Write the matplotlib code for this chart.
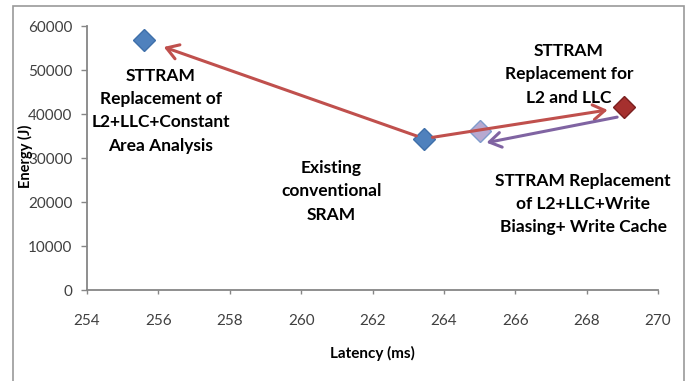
import matplotlib
matplotlib.use("Agg")
import matplotlib.pyplot as plt
from matplotlib.patches import FancyArrowPatch, Rectangle
from matplotlib.transforms import ScaledTranslation

plt.rcParams["font.family"] = ["Lato", "DejaVu Sans"]

# ── data ─────────────────────────────────────────────────────────────────────
latency = [255.6, 263.45, 265.0, 269.05]      # ms
energy  = [56800, 34400, 36200, 41500]        # J
face    = ["#4F81BD", "#4F81BD", "#B7A9D0", "#A5302E"]
edge    = ["#3F70AA", "#3F70AA", "#7F9CCC", "#7A1F1F"]

labels = [
    "STTRAM\nReplacement of\nL2+LLC+Constant\nArea Analysis",
    "Existing\nconventional\nSRAM",
    "STTRAM\nReplacement for\nL2 and LLC",
    "STTRAM Replacement\nof L2+LLC+Write\nBiasing+ Write Cache",
]
label_pos = [(256.07, 40700), (260.84, 22400), (267.5, 49000), (267.9, 19600)]

xticks = list(range(254, 271, 2))
yticks = list(range(0, 60001, 10000))

fig = plt.figure(figsize=(6.88, 3.81), dpi=100)
ax = fig.add_axes([87 / 688, 1 - 290 / 381, 571 / 688, 264 / 381])

# outer frame of the chart
fig.patches.append(Rectangle((13 / 688, -0.05), 671 / 688, 1.05 - 6 / 381,
                             transform=fig.transFigure, fill=False,
                             edgecolor="#9a9a9a", lw=1.2))

for x, y, fc, ec in zip(latency, energy, face, edge):
    ax.plot(x, y, marker="D", ms=11, mfc=fc, mec=ec, mew=1.0,
            ls="none", zorder=3)

def offset(dx, dy):
    # shift in points relative to a data position
    return ax.transData + ScaledTranslation(dx / 72, dy / 72, fig.dpi_scale_trans)

def arrow(i, j, color, shrink_a=6, shrink_b=14, off_a=(0, 0), off_b=(0, 0)):
    ta = offset(*off_a).transform((latency[i], energy[i]))
    tb = offset(*off_b).transform((latency[j], energy[j]))
    a = FancyArrowPatch(ta, tb, transform=None,
                        arrowstyle="->,head_length=0.6,head_width=0.38",
                        mutation_scale=14, color=color, lw=2.2,
                        shrinkA=shrink_a, shrinkB=shrink_b, zorder=4)
    fig.patches.append(a)

ax.set_xlim(254, 270)
ax.set_ylim(0, 60000)
fig.canvas.draw()

arrow(1, 0, "#C0504D", shrink_a=6, shrink_b=15)
arrow(1, 3, "#C0504D", shrink_a=6, shrink_b=12)
arrow(3, 2, "#8064A2", shrink_a=0, shrink_b=0, off_a=(-5, -7), off_b=(5, -8.6))

for txt, (x, y) in zip(labels, label_pos):
    ax.text(x, y, txt, ha="center", va="center", fontsize=12.5,
            fontweight="bold", linespacing=1.55, color="black")

ax.set_xticks(xticks)
ax.set_yticks(yticks)
ax.tick_params(direction="out", width=1, color="#868686",
               labelcolor="#404040", labelsize=11)
ax.tick_params(axis="x", length=3, pad=14)
ax.tick_params(axis="y", length=4.5, pad=6)
for s in ["top", "right"]:
    ax.spines[s].set_visible(False)
for s in ["left", "bottom"]:
    ax.spines[s].set_color("#868686")
    ax.spines[s].set_linewidth(1.3)

ax.set_xlabel("Latency (ms)", fontsize=11, fontweight="bold", labelpad=13)
fig.text(25 / 688, 1 - 156 / 381, "Energy (J)", rotation=90, ha="center",
         va="center", fontsize=10.5, fontweight="bold")

fig.savefig("out.png", dpi=100)
